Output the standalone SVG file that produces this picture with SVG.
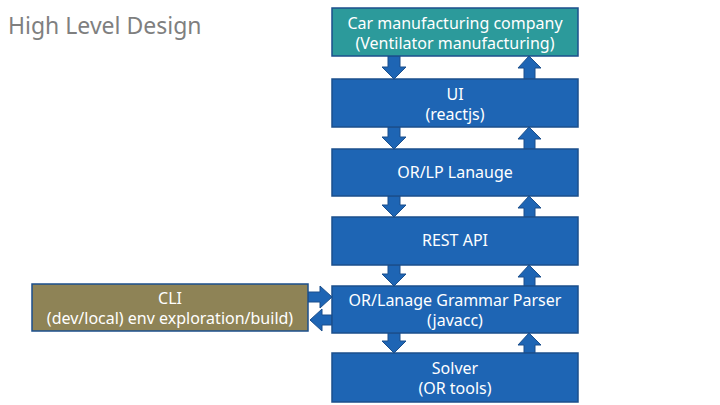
<svg xmlns="http://www.w3.org/2000/svg" width="720" height="405" viewBox="0 0 720 405">
<style>
.box{fill:#1E65B4;stroke:#1B4F8C;stroke-width:1.5}
.teal{fill:#2C9A9B;stroke:#1B4F8C;stroke-width:1.5}
.olive{fill:#8E8356;stroke:#1B4F8C;stroke-width:1.5}
.arr{fill:#1E65B4;stroke:#1B4F8C;stroke-width:1}
.t{font-family:"Noto Sans","Open Sans",sans-serif;font-size:16px;fill:#ffffff;text-anchor:middle}
.title{font-family:"Noto Sans","Open Sans",sans-serif;font-size:23px;fill:#7F7F7F}
</style>
<rect width="720" height="405" fill="#ffffff"/>
<text class="title" x="8" y="34">High Level Design</text>
<g id="connectors">
<path class="arr" d="M388,56 h12 v11 h6 l-12,12 l-12,-12 h6 z"/>
<path class="arr" d="M529,56 l12,12 h-6 v11 h-11 v-11 h-6 z"/>
<path class="arr" d="M388,127 h12 v10 h6 l-12,12 l-12,-12 h6 z"/>
<path class="arr" d="M529,127 l12,12 h-6 v10 h-11 v-10 h-6 z"/>
<path class="arr" d="M388,196 h12 v9 h6 l-12,12 l-12,-12 h6 z"/>
<path class="arr" d="M529,196 l12,12 h-6 v9 h-11 v-9 h-6 z"/>
<path class="arr" d="M388,265 h12 v9 h6 l-12,12 l-12,-12 h6 z"/>
<path class="arr" d="M529,265 l12,12 h-6 v9 h-11 v-9 h-6 z"/>
<path class="arr" d="M388,333 h12 v8 h6 l-12,12 l-12,-12 h6 z"/>
<path class="arr" d="M529,333 l12,12 h-6 v8 h-11 v-8 h-6 z"/>
<path class="arr" d="M308,292 h12 v-6 l12,11 l-12,11 v-6 h-12 z"/>
<path class="arr" d="M332,315 h-10 v-6 l-12,11 l12,11 v-6 h10 z"/>
</g>
<g id="car">
<rect class="teal" x="332" y="8" width="246" height="48"/>
<text class="t" x="455" y="29">Car manufacturing company</text>
<text class="t" x="455" y="49">(Ventilator manufacturing)</text>
</g>
<g id="ui">
<rect class="box" x="332" y="79" width="246" height="48"/>
<text class="t" x="455" y="100">UI</text>
<text class="t" x="455" y="120">(reactjs)</text>
</g>
<g id="orlp">
<rect class="box" x="332" y="149" width="246" height="47"/>
<text class="t" x="455" y="178">OR/LP Lanauge</text>
</g>
<g id="rest">
<rect class="box" x="332" y="217" width="246" height="48"/>
<text class="t" x="455" y="246">REST API</text>
</g>
<g id="parser">
<rect class="box" x="332" y="286" width="246" height="47"/>
<text class="t" x="455" y="306">OR/Lanage Grammar Parser</text>
<text class="t" x="455" y="326">(javacc)</text>
</g>
<g id="solver">
<rect class="box" x="332" y="353" width="246" height="49"/>
<text class="t" x="455" y="374">Solver</text>
<text class="t" x="455" y="394">(OR tools)</text>
</g>
<g id="cli">
<rect class="olive" x="32" y="284" width="276" height="47"/>
<text class="t" x="170" y="304">CLI</text>
<text class="t" x="170" y="324">(dev/local) env exploration/build)</text>
</g>
</svg>
